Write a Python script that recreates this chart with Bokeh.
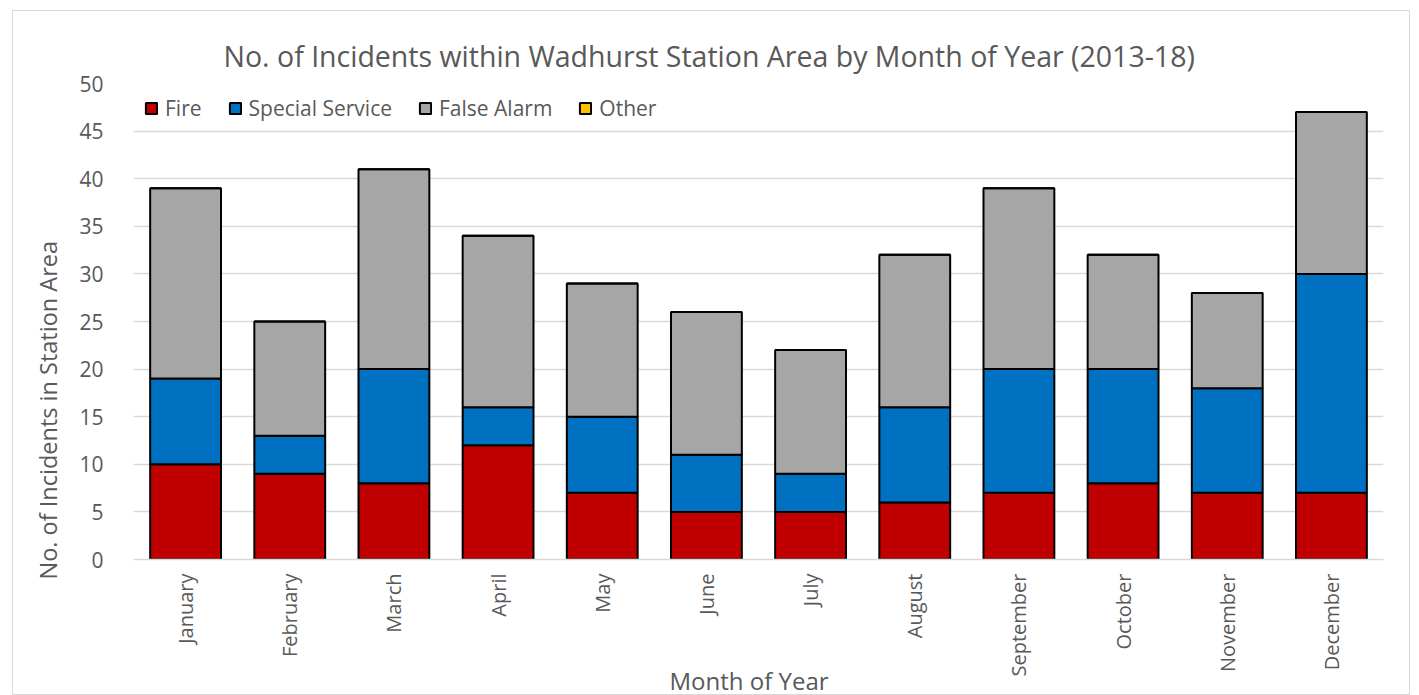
import math
from bokeh.plotting import figure
from bokeh.models import Legend, LegendItem, Title, SingleIntervalTicker, FactorRange
from bokeh.embed import file_html
from bokeh.resources import INLINE

months = ["January", "February", "March", "April", "May", "June", "July",
          "August", "September", "October", "November", "December"]
fire = [10, 9, 8, 12, 7, 5, 5, 6, 7, 8, 7, 7]
special_service = [9, 4, 12, 4, 8, 6, 4, 10, 13, 12, 11, 23]
false_alarm = [20, 12, 21, 18, 14, 15, 13, 16, 19, 12, 10, 17]
other = [0] * 12

series = ["Fire", "Special Service", "False Alarm", "Other"]
colors = ["#C00000", "#0070C0", "#A6A6A6", "#FFC000"]

data = {"months": months, "Fire": fire, "Special Service": special_service,
        "False Alarm": false_alarm, "Other": other}

FONT = "Open Sans"
TXT = "#595959"

p = figure(width=1398, height=685, x_range=FactorRange(*months), y_range=(0, 50),
           output_backend="svg", toolbar_location=None,
           min_border_left=120, min_border_right=28, min_border_top=72, min_border_bottom=137)
p.margin = (10, 0, 0, 12)
p.styles = {"border": "1.5px solid #d9d9d9"}

renderers = p.vbar_stack(series, x="months", width=0.68, source=data,
                         fill_color=colors, line_color="black", line_width=2)

p.title = Title(text="No. of Incidents within Wadhurst Station Area by Month of Year (2013-18)",
                align="left", offset=90, text_font=FONT, text_font_size="28.5px",
                text_color=TXT, text_font_style="normal", standoff=17)

p.xgrid.grid_line_color = None
p.ygrid.grid_line_color = "#d9d9d9"
p.ygrid.grid_line_width = 1.5
p.yaxis.ticker = SingleIntervalTicker(interval=5)
p.yaxis.axis_line_color = None
p.yaxis.major_tick_line_color = None
p.yaxis.minor_tick_line_color = None
p.yaxis.major_label_text_font = FONT
p.yaxis.major_label_text_font_size = "21px"
p.yaxis.major_label_text_color = TXT
p.yaxis.major_label_standoff = 24

p.xaxis.axis_line_color = "#d9d9d9"
p.xaxis.axis_line_width = 1.5
p.xaxis.major_tick_line_color = None
p.xaxis.minor_tick_line_color = None
p.xaxis.major_tick_out = 0
p.xaxis.minor_tick_out = 0
p.xaxis.major_label_orientation = math.pi / 2
p.xaxis.major_label_text_font = FONT
p.xaxis.major_label_text_font_size = "20px"
p.xaxis.major_label_text_color = TXT
p.xaxis.major_label_standoff = 14
p.outline_line_color = None

# axis titles placed as side titles (positioned like the reference)
p.add_layout(Title(text="No. of Incidents in Station Area", align="left", offset=-20,
                   text_font=FONT, text_font_size="23.5px", text_color=TXT,
                   text_font_style="normal", standoff=25), "left")
p.add_layout(Title(text="Month of Year", align="left", offset=536,
                   text_font=FONT, text_font_size="24px", text_color=TXT,
                   text_font_style="normal", standoff=-35), "below")

legend = Legend(items=[LegendItem(label=s, renderers=[r]) for s, r in zip(series, renderers)],
                orientation="horizontal", location=(11, 437),
                label_text_font=FONT, label_text_font_size="21px", label_text_color=TXT,
                glyph_width=14, glyph_height=14, spacing=26, label_standoff=7,
                border_line_color=None, background_fill_alpha=0,
                margin=0, padding=0)
p.add_layout(legend)

open("out.html", "w").write(file_html(p, INLINE))
